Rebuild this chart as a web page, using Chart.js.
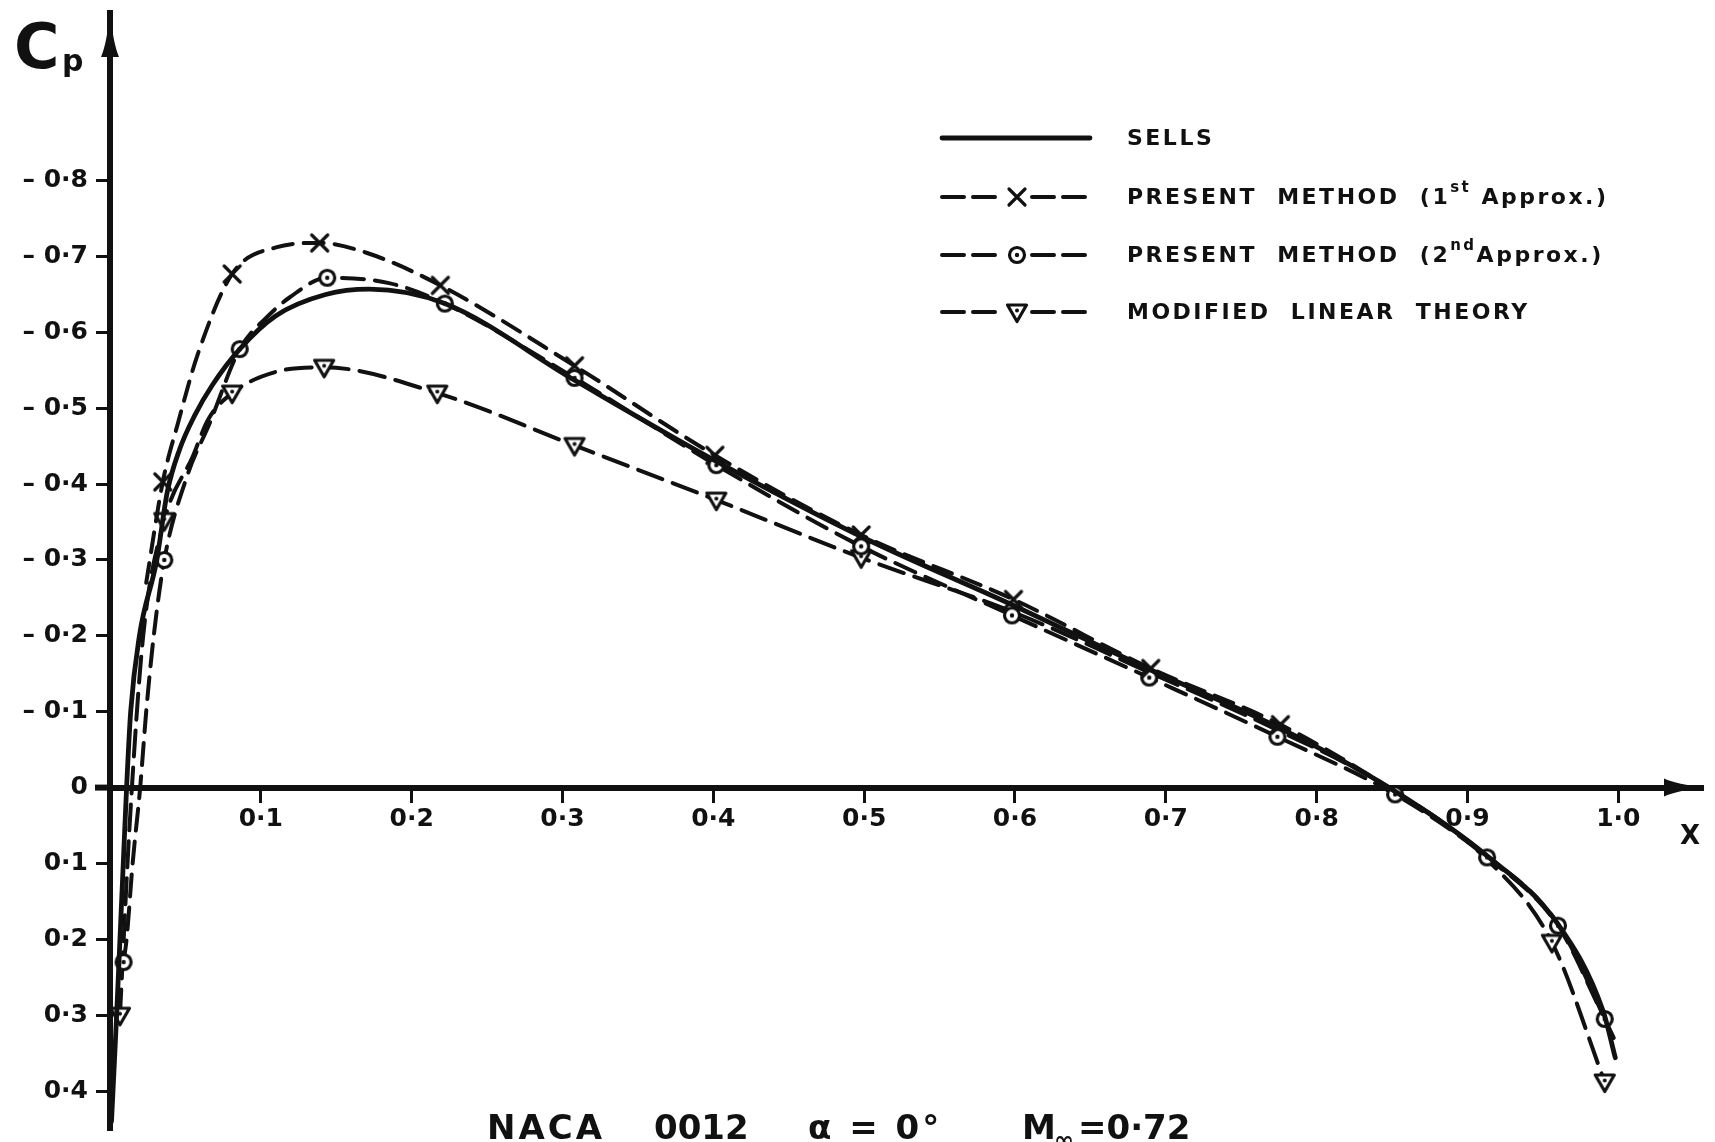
<!DOCTYPE html>
<html>
<head>
<meta charset="utf-8">
<title>NACA 0012 pressure distribution</title>
<script src="https://cdn.jsdelivr.net/npm/chart.js@4.4.0/dist/chart.umd.min.js"></script>
<style>
  html, body { margin: 0; padding: 0; background: #fff; }
  #wrap { width: 1715px; height: 1142px; position: relative; }
</style>
</head>
<body>
<div id="wrap"><canvas id="cp"></canvas></div>
<script>
// Cp along the chord, NACA 0012, alpha = 0 deg, M = 0.72
var xTicks  = [0.1, 0.2, 0.3, 0.4, 0.5, 0.6, 0.7, 0.8, 0.9, 1.0];
var cpTicks = [-0.8, -0.7, -0.6, -0.5, -0.4, -0.3, -0.2, -0.1, 0, 0.1, 0.2, 0.3, 0.4];

var sellsX  = [0.001, 0.0044, 0.0066, 0.0088, 0.011, 0.0137, 0.0195, 0.031, 0.038, 0.046, 0.056, 0.068, 0.086, 0.110, 0.143, 0.172, 0.222, 0.308, 0.402, 0.500, 0.598, 0.689, 0.775, 0.848, 0.913, 0.960, 0.990, 0.998];
var sellsCp = [0.44, 0.30, 0.20, 0.10, 0.0, -0.10, -0.20, -0.30, -0.39, -0.445, -0.49, -0.531, -0.578, -0.622, -0.650, -0.657, -0.638, -0.537, -0.430, -0.329, -0.241, -0.156, -0.079, 0.0, 0.090, 0.180, 0.295, 0.356];

var approx1X    = [0.024, 0.035, 0.045, 0.058, 0.081, 0.110, 0.139, 0.170, 0.219, 0.308, 0.401, 0.498, 0.599, 0.690, 0.776, 0.848, 0.913, 0.960, 0.997];
var approx1Cp   = [-0.27, -0.403, -0.48, -0.57, -0.677, -0.712, -0.718, -0.705, -0.662, -0.556, -0.438, -0.333, -0.248, -0.157, -0.083, 0.0, 0.09, 0.18, 0.33];
var approx1Mark = [0, 1, 0, 0, 1, 0, 1, 0, 1, 1, 1, 1, 1, 1, 1, 0, 0, 0, 0];

var approx2X    = [0.009, 0.011, 0.015, 0.020, 0.024, 0.029, 0.036, 0.051, 0.066, 0.086, 0.104, 0.119, 0.144, 0.185, 0.222, 0.308, 0.402, 0.498, 0.598, 0.689, 0.774, 0.852, 0.913, 0.960, 0.991];
var approx2Cp   = [0.23, 0.20, 0.10, 0.0, -0.10, -0.20, -0.30, -0.41, -0.48, -0.578, -0.62, -0.646, -0.672, -0.665, -0.638, -0.540, -0.425, -0.318, -0.227, -0.145, -0.067, 0.009, 0.092, 0.182, 0.305];
var approx2Mark = [1, 0, 0, 0, 0, 0, 1, 0, 0, 1, 0, 0, 1, 0, 1, 1, 1, 1, 1, 1, 1, 1, 1, 1, 1];

var linearX    = [0.0066, 0.013, 0.022, 0.036, 0.055, 0.065, 0.081, 0.110, 0.142, 0.217, 0.308, 0.402, 0.498, 0.598, 0.689, 0.775, 0.848, 0.913, 0.956, 0.991];
var linearCp   = [0.30, 0.05, -0.20, -0.352, -0.437, -0.485, -0.52, -0.548, -0.554, -0.520, -0.451, -0.379, -0.303, -0.232, -0.152, -0.075, 0.0, 0.095, 0.204, 0.388];
var linearMark = [1, 0, 0, 1, 0, 0, 1, 0, 1, 1, 1, 1, 1, 0, 0, 0, 0, 0, 1, 1];

var INK = '#111';
var FONT = '"DejaVu Sans", "Liberation Sans", sans-serif';

function zip(xs, ys) {
    return xs.map(function (x, i) { return { x: x, y: ys[i] }; });
}

function fmt(v) {
    if (Math.abs(v) < 1e-9) return '0';
    var s = Math.abs(v).toFixed(1).replace('.', '\u00b7');
    return v < 0 ? '\u2013 ' + s : s;
}

// hand-drawn style markers: cross, dotted circle, dotted inverted triangle
function drawMarker(g, kind, x, y) {
    g.save();
    g.strokeStyle = INK;
    g.fillStyle = '#fff';
    g.lineWidth = 3.2;
    g.lineCap = 'round';
    g.lineJoin = 'round';
    if (kind === 'cross') {
        g.beginPath();
        g.moveTo(x - 8, y - 8); g.lineTo(x + 8, y + 8);
        g.moveTo(x + 8, y - 8); g.lineTo(x - 8, y + 8);
        g.stroke();
    } else if (kind === 'circle') {
        g.beginPath(); g.arc(x, y, 7.5, 0, 2 * Math.PI); g.fill(); g.stroke();
        g.fillStyle = INK;
        g.beginPath(); g.arc(x, y, 2.2, 0, 2 * Math.PI); g.fill();
    } else {
        g.beginPath();
        g.moveTo(x - 9.5, y - 7); g.lineTo(x + 9.5, y - 7); g.lineTo(x, y + 9.5);
        g.closePath(); g.fill(); g.stroke();
        g.fillStyle = INK;
        g.beginPath(); g.arc(x, y - 1.5, 2, 0, 2 * Math.PI); g.fill();
    }
    g.restore();
}

function markerCanvas(kind) {
    var c = document.createElement('canvas');
    c.width = 28; c.height = 28;
    drawMarker(c.getContext('2d'), kind, 14, 14);
    return c;
}

function curve(label, xs, ys, marks, kind, dash, width) {
    var img = kind ? markerCanvas(kind) : false;
    return {
        label: label,
        data: zip(xs, ys),
        showLine: true,
        cubicInterpolationMode: 'monotone',
        borderColor: INK,
        borderWidth: width,
        borderDash: dash,
        borderCapStyle: 'round',
        fill: false,
        clip: 12,
        marker: kind,
        pointStyle: img,
        pointRadius: function (c) { return marks && marks[c.dataIndex] ? 9 : 0; },
        pointHoverRadius: 0
    };
}

var datasets = [
    curve('SELLS', sellsX, sellsCp, null, null, [], 4.8),
    curve('PRESENT METHOD (1st Approx.)', approx1X, approx1Cp, approx1Mark, 'cross', [20, 11], 4),
    curve('PRESENT METHOD (2nd Approx.)', approx2X, approx2Cp, approx2Mark, 'circle', [22, 11], 4),
    curve('MODIFIED LINEAR THEORY', linearX, linearCp, linearMark, 'triangle', [26, 11], 4)
];

// legend rows, drawn in the plate's own lettering
var legendRows = [
    [['SELLS']],
    [['PRESENT  METHOD  (1'], ['st', 1], [' Approx.)']],
    [['PRESENT  METHOD  (2'], ['nd', 1], ['Approx.)']],
    [['MODIFIED  LINEAR  THEORY']]
];

function drawRuns(ctx, runs, x, y) {
    runs.forEach(function (r) {
        ctx.font = r[1] ? 'bold 15px ' + FONT : 'bold 22px ' + FONT;
        ctx.fillText(r[0], x, r[1] ? y - 10 : y);
        x += ctx.measureText(r[0]).width;
    });
}

var paper = {
    id: 'paper',
    afterDraw: function (chart) {
        var ctx = chart.ctx;
        var area = chart.chartArea;
        var x0 = chart.scales.x.getPixelForValue(0);
        var y0 = chart.scales.y.getPixelForValue(0);
        ctx.save();
        ctx.fillStyle = INK;
        ctx.strokeStyle = INK;

        // axis stub left of the origin and the two arrow heads
        ctx.lineWidth = 6;
        ctx.beginPath(); ctx.moveTo(95, y0); ctx.lineTo(x0, y0); ctx.stroke();
        ctx.beginPath();
        ctx.moveTo(x0, area.top - 2);
        ctx.quadraticCurveTo(x0 + 3, area.top + 30, x0 + 9, area.top + 44);
        ctx.lineTo(x0 - 9, area.top + 44);
        ctx.quadraticCurveTo(x0 - 3, area.top + 30, x0, area.top - 2);
        ctx.fill();
        ctx.beginPath();
        ctx.moveTo(area.right + 3, y0);
        ctx.quadraticCurveTo(area.right - 25, y0 + 3, area.right - 38, y0 + 9);
        ctx.lineTo(area.right - 38, y0 - 9);
        ctx.quadraticCurveTo(area.right - 25, y0 - 3, area.right + 3, y0);
        ctx.fill();

        // axis names
        ctx.textBaseline = 'alphabetic';
        ctx.textAlign = 'left';
        ctx.font = 'bold 62px ' + FONT;
        ctx.fillText('C', 14, 68);
        ctx.font = 'bold 30px ' + FONT;
        ctx.fillText('p', 62, 71);
        ctx.font = 'bold 26px ' + FONT;
        ctx.fillText('X', 1680, 844);

        // legend
        var rowY = [138, 197, 255, 312];
        ctx.letterSpacing = '2.5px';
        chart.data.datasets.forEach(function (ds, i) {
            var y = rowY[i];
            ctx.save();
            ctx.lineWidth = ds.borderWidth;
            ctx.lineCap = 'round';
            if (!ds.marker) {
                ctx.beginPath(); ctx.moveTo(942, y); ctx.lineTo(1090, y); ctx.stroke();
            } else {
                ctx.setLineDash([22, 9]);
                ctx.beginPath(); ctx.moveTo(942, y); ctx.lineTo(1002, y); ctx.stroke();
                ctx.beginPath(); ctx.moveTo(1032, y); ctx.lineTo(1092, y); ctx.stroke();
                ctx.setLineDash([]);
                drawMarker(ctx, ds.marker, 1017, y);
            }
            ctx.restore();
            ctx.textBaseline = 'middle';
            drawRuns(ctx, legendRows[i], 1127, y + 1);
        });

        // caption
        ctx.textBaseline = 'alphabetic';
        ctx.letterSpacing = '3px';
        ctx.font = 'bold 34px ' + FONT;
        ctx.fillText('NACA', 487, 1139);
        ctx.letterSpacing = '0px';
        ctx.fillText('0012', 654, 1139);
        ctx.letterSpacing = '3px';
        ctx.fillText('\u03b1 = 0\u00b0', 808, 1139);
        ctx.letterSpacing = '0px';
        ctx.fillText('M', 1022, 1139);
        ctx.font = 'bold 24px ' + FONT;
        ctx.fillText('\u221e', 1054, 1148);
        ctx.font = 'bold 34px ' + FONT;
        ctx.fillText('=0\u00b772', 1078, 1139);
        ctx.restore();
    }
};

var tickFont = { family: FONT, size: 25, weight: 'bold' };

new Chart(document.getElementById('cp'), {
    type: 'scatter',
    data: { datasets: datasets },
    options: {
        responsive: true,
        maintainAspectRatio: false,
        animation: false,
        events: [],
        layout: { padding: { left: 0, right: 8, top: 10, bottom: 7 } },
        plugins: {
            legend: { display: false },
            tooltip: { enabled: false }
        },
        scales: {
            x: {
                type: 'linear',
                min: 0,
                max: 1.0555,
                position: { y: 0 },
                afterBuildTicks: function (s) { s.ticks = xTicks.map(function (v) { return { value: v }; }); },
                afterFit: function (s) { s.paddingLeft = 0; s.paddingRight = 0; },
                grid: { drawOnChartArea: false, tickLength: 12, color: INK, lineWidth: 3 },
                border: { color: INK, width: 6 },
                ticks: { color: INK, font: tickFont, padding: 5, autoSkip: false, maxRotation: 0, callback: fmt }
            },
            y: {
                type: 'linear',
                reverse: true,
                min: -1.021,
                max: 0.45,
                afterBuildTicks: function (s) { s.ticks = cpTicks.map(function (v) { return { value: v }; }); },
                afterFit: function (s) { s.width = 110; s.paddingTop = 0; s.paddingBottom = 0; },
                grid: { drawOnChartArea: false, tickLength: 14, color: INK, lineWidth: 3 },
                border: { color: INK, width: 6 },
                ticks: { color: INK, font: tickFont, padding: 8, autoSkip: false, callback: fmt }
            }
        }
    },
    plugins: [paper]
});
</script>
</body>
</html>
